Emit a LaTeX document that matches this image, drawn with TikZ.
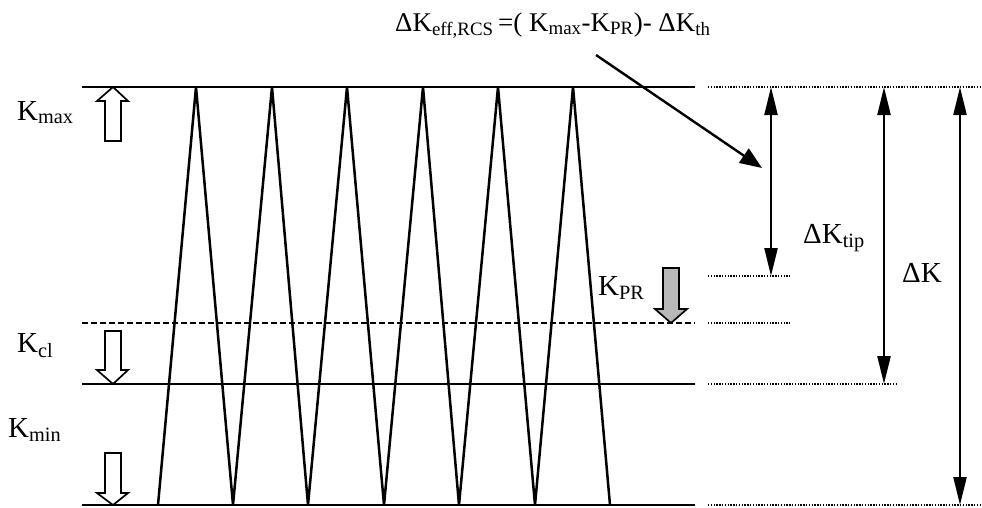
\documentclass[tikz,border=0pt]{standalone}
\usepackage{fontspec}
\setmainfont{Liberation Serif}
\usetikzlibrary{arrows.meta}
\newcommand{\sbs}[1]{\textsubscript{#1}}
\begin{document}
\begin{tikzpicture}[x=1pt,y=-1pt,
  lvl/.style={line width=2.4pt},
  dotl/.style={line width=1.8pt,dash pattern=on 1.4pt off 1.4pt},
  dashl/.style={line width=1.8pt,dash pattern=on 6pt off 3pt},
  zig/.style={line width=2.5pt,line join=miter},
  hollow/.style={line width=1.7pt,fill=white},
  dim/.style={line width=2.4pt,{Triangle[length=28pt,width=13pt]}-{Triangle[length=28pt,width=13pt]}},
  lab/.style={font=\fontsize{29}{31}\selectfont,inner sep=0pt},
  labf/.style={font=\fontsize{27}{29}\selectfont,inner sep=0pt}]
\useasboundingbox (0,0) rectangle (982,507);
% level coordinates
\coordinate (maxL) at (82,87);  \coordinate (maxR) at (695,87);
\coordinate (clL) at (82,323);  \coordinate (clR) at (695,323);
\coordinate (minL) at (82,384); \coordinate (minR) at (695,384);
\coordinate (botL) at (82,505); \coordinate (botR) at (695,505);
% solid / dashed levels
\draw[lvl] (maxL) -- (maxR);
\draw[dashl] (clL) -- (clR);
\draw[lvl] (minL) -- (minR);
\draw[lvl] (botL) -- (botR);
% dotted extensions
\coordinate (dmaxL) at (708,87);  \coordinate (dmaxR) at (982,87);
\coordinate (dprL) at (708,276);  \coordinate (dprR) at (790,276);
\coordinate (dclL) at (708,323);  \coordinate (dclR) at (790,323);
\coordinate (dminL) at (708,384); \coordinate (dminR) at (898,384);
\coordinate (dbotL) at (708,505); \coordinate (dbotR) at (982,505);
\draw[dotl] (dmaxL) -- (dmaxR);
\draw[dotl] (dprL) -- (dprR);
\draw[dotl] (dclL) -- (dclR);
\draw[dotl] (dminL) -- (dminR);
\draw[dotl] (dbotL) -- (dbotR);
% zigzag load
\draw[zig] (158,505) -- (196,87) -- (233,505) -- (272,87) -- (308,505) -- (347,87)
  -- (384,505) -- (423,87) -- (459,505) -- (498,87) -- (535,505) -- (573,87) -- (610,505);
% hollow arrows
\draw[hollow] (113,87) -- (128,101) -- (121,101) -- (121,141) -- (105,141) -- (105,101) -- (97,101) -- cycle;
\draw[hollow] (113,384) -- (128,370) -- (121,370) -- (121,331) -- (105,331) -- (105,370) -- (97,370) -- cycle;
\draw[hollow] (113,505) -- (128,493) -- (121,493) -- (121,453) -- (105,453) -- (105,493) -- (97,493) -- cycle;
\draw[line width=1.7pt,fill=gray!55] (671,323) -- (687,309) -- (679,309) -- (679,268) -- (663,268) -- (663,309) -- (655,309) -- cycle;
% labels
\node[lab,anchor=base west] (kmax) at (17,120) {K\sbs{max}};
\node[lab,anchor=base west] (kcl) at (17,352) {K\sbs{cl}};
\node[lab,anchor=base west] (kmin) at (8,437) {K\sbs{min}};
\node[lab,anchor=base west] (kpr) at (598,295) {K\sbs{PR}};
\node[lab,anchor=base west] (dktip) at (803,243) {ΔK\sbs{tip}};
\node[lab,anchor=base west] (dk) at (902,282) {ΔK};
\node[labf,anchor=base west] (form) at (395,31) {ΔK\sbs{eff,RCS}\,=( K\sbs{max}-K\sbs{PR})- ΔK\sbs{th}};
% dimension arrows
\coordinate (a1t) at (771,87);  \coordinate (a1b) at (771,276);
\coordinate (a2t) at (884,87);  \coordinate (a2b) at (884,384);
\coordinate (a3t) at (960,87);  \coordinate (a3b) at (960,505);
\draw[dim] (a1t) -- (a1b);
\draw[dim] (a2t) -- (a2b);
\draw[dim] (a3t) -- (a3b);
% pointer arrow
\coordinate (ps) at (596,55); \coordinate (pe) at (762,168);
\draw[line width=2.4pt,-{Triangle[length=22pt,width=17pt]}] (ps) -- (pe);
\end{tikzpicture}
\end{document}
